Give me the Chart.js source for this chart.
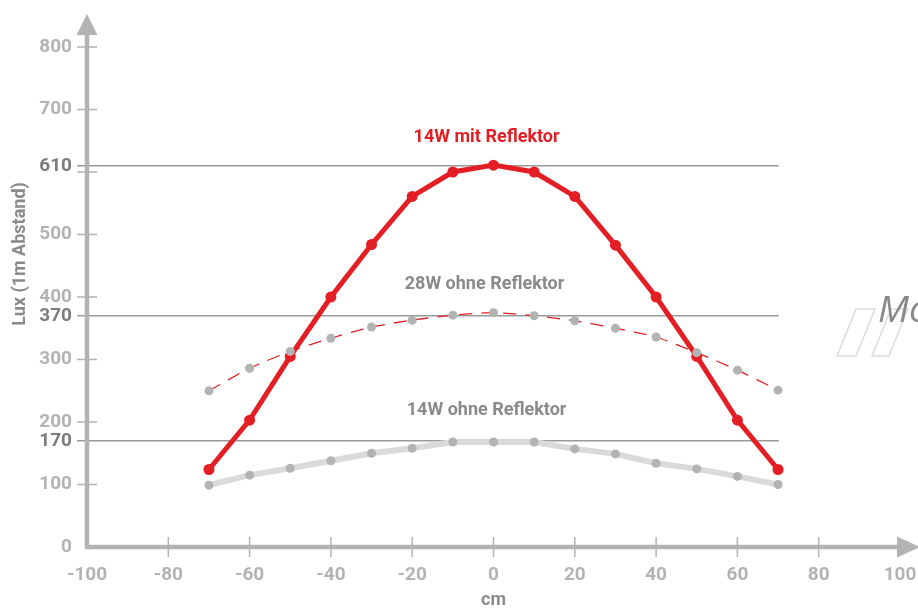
<!DOCTYPE html>
<html>
<head>
<meta charset="utf-8">
<script src="https://cdn.jsdelivr.net/npm/chart.js@4.4.1/dist/chart.umd.min.js"></script>
<style>
  html, body { margin: 0; padding: 0; background: #ffffff; }
  #wrap { width: 918px; height: 608px; position: relative; }
</style>
</head>
<body>
<div id="wrap"><canvas id="c" width="918" height="608"></canvas></div>
<script>
// ---- data ----
const xPositions = [-70, -60, -50, -40, -30, -20, -10, 0, 10, 20, 30, 40, 50, 60, 70];
const mitReflektor14W = [124, 203, 305, 400, 484, 561, 600, 611, 600, 561, 483, 400, 305, 203, 124];
const ohneReflektor28W = [250, 286, 313, 334, 352, 363, 371, 375, 370, 362, 350, 336, 311, 283, 251];
const ohneReflektor14W = [99, 115, 126, 138, 150, 158, 168, 168, 168, 157, 149, 134, 125, 113, 100];
const yTickValues = [0, 100, 200, 300, 400, 500, 600, 700, 800];
const hiddenYTickLabels = [600];
const referenceLevels = [610, 370, 170];
const xTickValues = [-100, -80, -60, -40, -20, 0, 20, 40, 60, 80, 100];
const seriesNames = ['14W mit Reflektor', '28W ohne Reflektor', '14W ohne Reflektor'];
const yAxisTitle = 'Lux (1m Abstand)';
const xAxisTitle = 'cm';
const watermarkText = 'Mo';

const FONT = 'Roboto, "Noto Sans", sans-serif';
const RED = '#e31e24';
const AXIS = '#b3b3b3';
const toPts = arr => arr.map((v, i) => ({ x: xPositions[i], y: v }));

const decor = {
  id: 'decor',
  beforeDatasetsDraw(chart) {
    const ctx = chart.ctx;
    const xs = chart.scales.x, ys = chart.scales.y;
    const ax = xs.getPixelForValue(-100);
    const ay = ys.getPixelForValue(0);
    ctx.save();
    // reference lines
    ctx.strokeStyle = '#9a9a9a';
    ctx.lineWidth = 1.3;
    referenceLevels.forEach(v => {
      const py = ys.getPixelForValue(v);
      ctx.beginPath();
      ctx.moveTo(ax - 10, py);
      ctx.lineTo(xs.getPixelForValue(70.2), py);
      ctx.stroke();
    });
    // axis lines
    ctx.strokeStyle = AXIS;
    ctx.fillStyle = AXIS;
    ctx.lineWidth = 4.5;
    ctx.beginPath();
    ctx.moveTo(ax, ay + 2.25);
    ctx.lineTo(ax, 34);
    ctx.moveTo(ax - 2.25, ay);
    ctx.lineTo(898, ay);
    ctx.stroke();
    // arrows
    ctx.beginPath();
    ctx.moveTo(ax, 14); ctx.lineTo(ax + 10.5, 35); ctx.lineTo(ax - 10.5, 35); ctx.closePath();
    ctx.fill();
    ctx.beginPath();
    ctx.moveTo(920, ay); ctx.lineTo(897, ay - 10.5); ctx.lineTo(897, ay + 10.5); ctx.closePath();
    ctx.fill();
    // ticks
    ctx.lineWidth = 1.5;
    ctx.beginPath();
    yTickValues.forEach(v => {
      if (v === 0) return;
      const py = ys.getPixelForValue(v);
      ctx.moveTo(ax - 10, py); ctx.lineTo(ax + 10, py);
    });
    xTickValues.forEach(v => {
      if (v === -100 || v === 100) return;
      const px = xs.getPixelForValue(v);
      ctx.moveTo(px, ay - 10); ctx.lineTo(px, ay + 10);
    });
    ctx.stroke();
    ctx.restore();
  },
  afterDraw(chart) {
    const ctx = chart.ctx;
    const xs = chart.scales.x, ys = chart.scales.y;
    ctx.save();
    // series labels
    ctx.textAlign = 'center';
    ctx.textBaseline = 'middle';
    ctx.font = 'bold 18px ' + FONT;
    const labelPos = [[-1.7, 655, RED], [-2.2, 420, '#8a8a8a'], [-1.7, 218, '#8a8a8a']];
    seriesNames.forEach((n, i) => {
      ctx.fillStyle = labelPos[i][2];
      ctx.fillText(n, xs.getPixelForValue(labelPos[i][0]), ys.getPixelForValue(labelPos[i][1]));
    });
    // axis titles
    ctx.fillStyle = '#8a8a8a';
    ctx.font = 'bold 18px ' + FONT;
    ctx.fillText(xAxisTitle, xs.getPixelForValue(0), 600);
    ctx.save();
    ctx.translate(20, 254);
    ctx.rotate(-Math.PI / 2);
    ctx.font = 'bold 18px ' + FONT;
    ctx.fillText(yAxisTitle, 0, 0);
    ctx.restore();
    // watermark
    ctx.strokeStyle = '#dcdcdc';
    ctx.lineWidth = 1.5;
    [[837, 856, 875], [872, 891, 908]].forEach(p => {
      ctx.beginPath();
      ctx.moveTo(p[0], 356); ctx.lineTo(p[1], 309); ctx.lineTo(p[2], 309); ctx.lineTo(p[2] - 19, 356);
      ctx.closePath(); ctx.stroke();
    });
    ctx.fillStyle = '#888888';
    ctx.textAlign = 'left';
    ctx.textBaseline = 'alphabetic';
    ctx.font = 'italic 37px "Open Sans", "Liberation Sans", sans-serif';
    ctx.fillText(watermarkText, 878, 322);
    ctx.restore();
  }
};

new Chart(document.getElementById('c'), {
  type: 'line',
  data: {
    datasets: [
      {
        label: seriesNames[1],
        data: toPts(ohneReflektor28W),
        borderColor: RED,
        borderWidth: 1.3,
        borderDash: [13, 9],
        pointRadius: 4.5,
        pointBackgroundColor: '#b3b3b3',
        pointBorderWidth: 0,
        tension: 0.2,
        order: 0
      },
      {
        label: seriesNames[0],
        data: toPts(mitReflektor14W),
        borderColor: RED,
        borderWidth: 5,
        pointRadius: 5.5,
        pointBackgroundColor: RED,
        pointBorderWidth: 0,
        tension: 0,
        order: 1
      },
      {
        label: seriesNames[2],
        data: toPts(ohneReflektor14W),
        borderColor: '#dadada',
        borderWidth: 6,
        pointRadius: 4.5,
        pointBackgroundColor: '#b3b3b3',
        pointBorderWidth: 0,
        tension: 0,
        order: 2
      }
    ]
  },
  options: {
    responsive: false,
    animation: false,
    devicePixelRatio: 1,
    layout: { padding: { top: 47, right: 18, left: 0, bottom: 0 } },
    plugins: { legend: { display: false }, tooltip: { enabled: false } },
    scales: {
      x: {
        type: 'linear',
        min: -100, max: 100,
        grid: { display: false },
        border: { display: false },
        afterBuildTicks: s => { s.ticks = xTickValues.map(v => ({ value: v })); },
        afterFit: s => { s.height = 61; s.paddingLeft = 0; s.paddingRight = 0; },
        ticks: {
          autoSkip: false,
          maxRotation: 0,
          padding: 9,
          color: '#b3b3b3',
          font: { family: FONT, size: 19, weight: 'bold' }
        }
      },
      y: {
        type: 'linear',
        min: 0, max: 800,
        grid: { display: false },
        border: { display: false },
        afterBuildTicks: s => {
          s.ticks = yTickValues.concat(referenceLevels).sort((a, b) => a - b).map(v => ({ value: v }));
        },
        afterFit: s => { s.width = 87; s.paddingTop = 0; s.paddingBottom = 0; },
        ticks: {
          autoSkip: false,
          padding: 7,
          callback: v => hiddenYTickLabels.includes(v) ? '' : String(v),
          color: c => referenceLevels.includes(c.tick.value) ? '#7d7d7d' : '#b3b3b3',
          font: { family: FONT, size: 19, weight: 'bold' }
        }
      }
    }
  },
  plugins: [decor]
});
</script>
</body>
</html>
